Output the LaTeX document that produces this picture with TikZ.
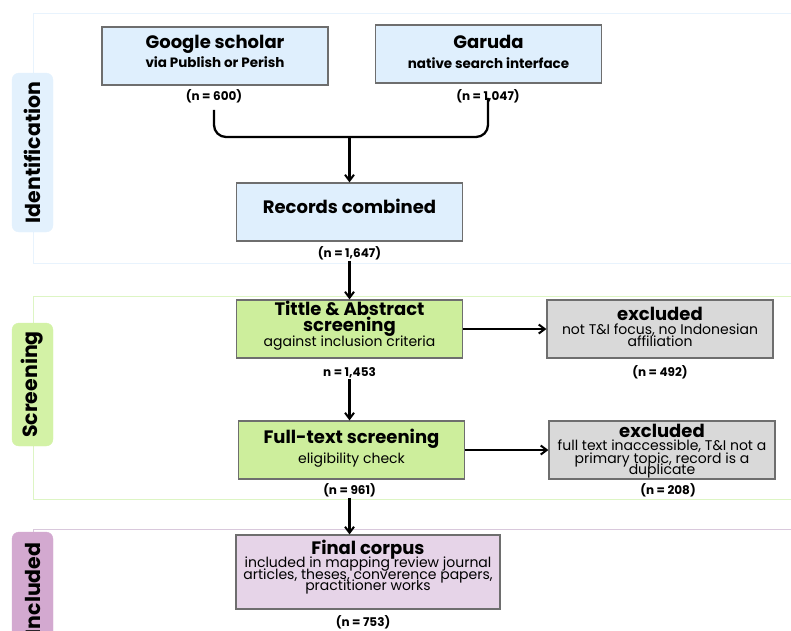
\documentclass[tikz,border=0pt]{standalone}
\usepackage{fontspec}
\setmainfont{Poppins}
\usetikzlibrary{arrows.meta}
\definecolor{bluefill}{HTML}{DFEFFD}
\definecolor{greenfill}{HTML}{CDEE9C}
\definecolor{grayfill}{HTML}{D9D9D9}
\definecolor{purplefill}{HTML}{E6D4E8}
\definecolor{bluetab}{HTML}{E3F1FD}
\definecolor{greentab}{HTML}{D3F2A6}
\definecolor{purpletab}{HTML}{D3A9D0}
\definecolor{bluepanel}{HTML}{E8F3FD}
\definecolor{greenpanel}{HTML}{DDF5C4}
\definecolor{purplepanel}{HTML}{D9C8DC}
\definecolor{boxline}{HTML}{6E6E6E}
\newcommand\hdfont{\fontsize{18}{12}\selectfont\bfseries}
\newcommand\subbold{\fontsize{13.5}{12}\selectfont\bfseries}
\newcommand\subreg{\fontsize{14}{12}\selectfont}
\newcommand\nfont{\fontsize{12}{12}\selectfont\bfseries}
\newcommand\tabfont{\fontsize{20.5}{20}\selectfont\bfseries}
\begin{document}
\begin{tikzpicture}[x=1pt,y=-1pt,
  box/.style={draw=boxline, line width=1.2pt, minimum width=226, minimum height=58, align=center, inner sep=2pt,
    text depth=0pt, execute at begin node={\lineskiplimit=-100pt\relax}},
  tab/.style={rounded corners=7},
  panel/.style={line width=1pt},
  flow/.style={line width=2.3pt, -{Straight Barb[length=6pt,width=9pt,line width=2pt]}},
  nlabel/.style={font=\nfont, inner sep=1pt}]
\useasboundingbox (0,0) rectangle (791,630);
\clip (0,0) rectangle (791,630);
% panels
\draw[panel, draw=bluepanel] (33,13) rectangle (800,263);
\draw[panel, draw=greenpanel] (33,296) rectangle (800,499);
\draw[panel, draw=purplepanel] (33,529) rectangle (800,660);
% tabs
\filldraw[tab, fill=bluetab, draw=bluetab] (12,73) rectangle (53,232);
\node[rotate=90, font=\tabfont] (tid) at (32.5,152.5) {Identification};
\filldraw[tab, fill=greentab, draw=greentab] (12,323) rectangle (53,446);
\node[rotate=90, font=\tabfont] (tsc) at (32.5,384.5) {Screening};
\filldraw[tab, fill=purpletab, draw=purpletab] (12,532) rectangle (53,660);
\node[rotate=90, font=\tabfont, anchor=east] (tin) at (32.5,539) {Included};
% identification
\node[box, fill=bluefill, text height=22pt] (google) at (215,56) {\hdfont Google scholar\\[7pt]\subbold via Publish or Perish};
\node[box, fill=bluefill, text height=28pt] (garuda) at (488.5,54) {\hdfont Garuda\\[8pt]\subbold native search interface};
\node[nlabel] (n600) at (214,96) {(n = 600)};
\node[nlabel] (n1047) at (488,96) {(n = 1,047)};
\coordinate (j) at (349.5,137);
\node[box, fill=bluefill, text height=2pt] (records) at (349.5,212) {\hdfont Records combined};
\node[nlabel] (n1647) at (349.5,253) {(n = 1,647)};
\draw[line width=2.3pt, rounded corners=12] (n600.south) ++(0,6) |- (j) -| ([yshift=6pt]n1047.south);
\draw[flow] (j) -- (records.north);
% screening
\node[box, fill=greenfill, text height=34pt] (title) at (349.5,329) {\hdfont Tittle \& Abstract\\[4pt]\hdfont screening\\[3pt]\subreg against inclusion criteria};
\node[box, fill=grayfill, text height=34pt] (excl1) at (660,329) {\hdfont excluded\\[2pt]\subreg not T\&I focus, no Indonesian\\\subreg affiliation};
\node[nlabel] (n1453) at (349.5,373) {n = 1,453};
\node[nlabel] (n492) at (660,372) {(n = 492)};
\node[box, fill=greenfill, text height=26pt] (full) at (351.5,450) {\hdfont Full-text screening\\[8pt]\subreg eligibility check};
\node[box, fill=grayfill, text height=48pt] (excl2) at (662,450) {\hdfont excluded\\[1pt]\subreg full text inaccessible, T\&I not a\\[1pt]\subreg primary topic, record is a\\[-1pt]\subreg duplicate};
\node[nlabel] (n961) at (349.5,490) {(n = 961)};
\node[nlabel] (n208) at (668,490) {(n = 208)};
\draw[flow] (n1647.south) -- (title.north);
\draw[flow] (title.east) -- (excl1.west);
\draw[flow] (n1453.south) -- (n1453.south |- full.north);
\draw[flow] (full.east) -- (excl2.west);
% included
\node[box, fill=purplefill, minimum width=264, minimum height=74, text height=36pt] (final) at (368,572) {\hdfont Final corpus\\[0.7pt]\subreg included in mapping review journal\\\subreg articles, theses, converence papers,\\[-1pt]\subreg practitioner works};
\node[nlabel] (n753) at (363,622) {(n = 753)};
\draw[flow] (n961.south) -- (n961.south |- final.north);
\end{tikzpicture}
\end{document}
